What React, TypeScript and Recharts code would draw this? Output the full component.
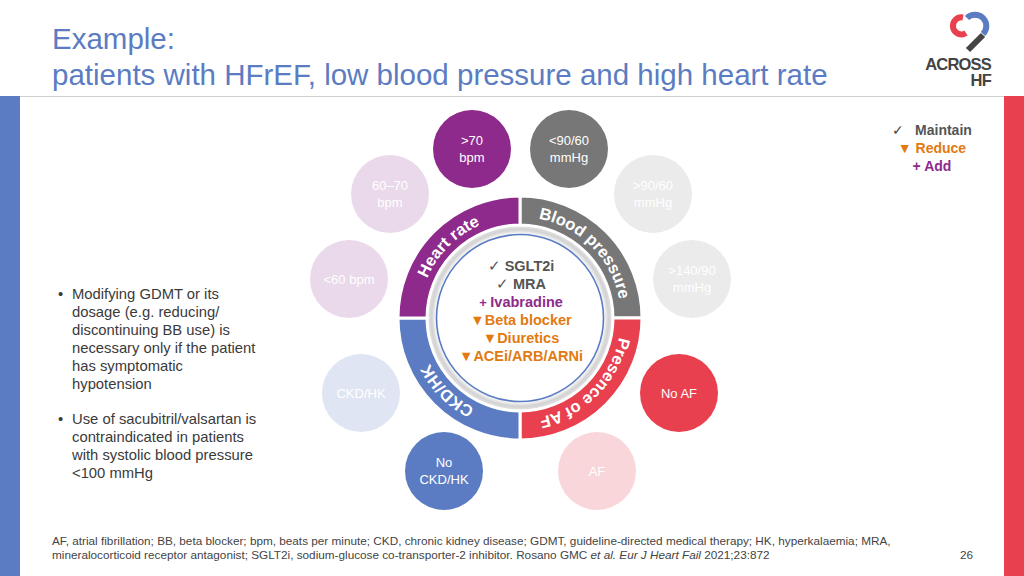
import React from 'react';
import { PieChart, Pie, Cell, ScatterChart, Scatter, XAxis, YAxis } from 'recharts';

const FONT = '"Liberation Sans", Arial, Helvetica, sans-serif';

// ---- data ----
const domainNames = ['Blood pressure', 'Presence of AF', 'CKD/HK', 'Heart rate'];
const domainShares = [25, 25, 25, 25];
const domainColors = ['#777777', '#e8404e', '#5b7cc2', '#8e2a8b'];

const satelliteLabels = [
  ['>70', 'bpm'],
  ['<90/60', 'mmHg'],
  ['60\u201370', 'bpm'],
  ['>90/60', 'mmHg'],
  ['<60 bpm'],
  ['>140/90', 'mmHg'],
  ['CKD/HK'],
  ['No AF'],
  ['No', 'CKD/HK'],
  ['AF'],
];
const satelliteX = [472, 569, 390, 653, 349, 692, 361, 679, 444, 597];
const satelliteY = [149, 149, 194, 194, 279, 279, 393, 393, 471, 471];
const satelliteColors = ['#8e2a8b', '#777777', '#ead9ea', '#ebebeb', '#ead9ea', '#ebebeb', '#dfe5f3', '#e8404e', '#5b7cc2', '#f9d6da'];

const drugNames = ['SGLT2i', 'MRA', 'Ivabradine', 'Beta blocker', 'Diuretics', 'ACEi/ARB/ARNi'];
const drugActions = ['maintain', 'maintain', 'add', 'reduce', 'reduce', 'reduce'];

const bullet1 = ['Modifying GDMT or its', 'dosage (e.g. reducing/', 'discontinuing BB use) is', 'necessary only if the patient', 'has symptomatic', 'hypotension'];
const bullet2 = ['Use of sacubitril/valsartan is', 'contraindicated in patients', 'with systolic blood pressure', '<100 mmHg'];

// ---- styles ----
const CX = 520;
const CY = 318;
const W = 1024;
const H = 576;
const BLUE = '#5b7cc2';
const RED = '#e8404e';
const PURPLE = '#8e2a8b';
const ORANGE = '#e27a12';
const GREY_TXT = '#555555';

const domainData = domainNames.map((name, i) => ({ name, value: domainShares[i] }));
const satellites = satelliteLabels.map((lines, i) => ({ lines, x: satelliteX[i], y: satelliteY[i], color: satelliteColors[i] }));

const RAD = Math.PI / 180;

const renderDomainLabel = (props: any) => {
  const { cx, cy, midAngle, index } = props;
  const name = props.name ?? props.payload?.name;
  const r = 101;
  const s = midAngle + 45;
  const e = midAngle - 45;
  const x1 = cx + r * Math.cos(s * RAD);
  const y1 = cy - r * Math.sin(s * RAD);
  const x2 = cx + r * Math.cos(e * RAD);
  const y2 = cy - r * Math.sin(e * RAD);
  const id = `domain-arc-${index}`;
  return (
    <g key={id}>
      <path id={id} d={`M ${x1} ${y1} A ${r} ${r} 0 0 1 ${x2} ${y2}`} fill="none" stroke="none" />
      <text fill="#ffffff" fontSize={16.5} fontWeight="bold" fontFamily={FONT}>
        <textPath href={`#${id}`} startOffset="50%" textAnchor="middle">
          {name}
        </textPath>
      </text>
    </g>
  );
};

const renderSatellite = (props: any) => {
  const { cx, cy, payload } = props;
  const lines: string[] = payload.lines;
  return (
    <g>
      <circle cx={cx} cy={cy} r={39} fill={payload.color} />
      {lines.length === 1 ? (
        <text x={cx} y={cy + 5} textAnchor="middle" fill="#ffffff" fontSize={13} fontFamily={FONT}>
          {lines[0]}
        </text>
      ) : (
        <text textAnchor="middle" fill="#ffffff" fontSize={13} fontFamily={FONT}>
          <tspan x={cx} y={cy - 4}>{lines[0]}</tspan>
          <tspan x={cx} y={cy + 13}>{lines[1]}</tspan>
        </text>
      )}
    </g>
  );
};

const actionColor = (a: string) => (a === 'maintain' ? GREY_TXT : a === 'add' ? PURPLE : ORANGE);
const actionMark = (a: string) => (a === 'maintain' ? '\u2713 ' : a === 'add' ? '+ ' : '\u25BC');

export default function App() {
  return (
    <div style={{ position: 'relative', width: W, height: H, overflow: 'hidden', background: '#ffffff', fontFamily: FONT }}>
      <style>{'body{margin:0;}'}</style>
      {/* background slide */}
      <svg width={W} height={H} style={{ position: 'absolute', left: 0, top: 0 }}>
        <defs>
          <radialGradient id="coreShadow" cx="50%" cy="50%" r="50%">
            <stop offset="0.88" stopColor="#ffffff" />
            <stop offset="0.93" stopColor="#d2d2d2" />
            <stop offset="1" stopColor="#f0f0f0" />
          </radialGradient>
        </defs>
        <rect x={0} y={96} width={20} height={H - 96} fill={BLUE} />
        <rect x={1004} y={96} width={20} height={H - 96} fill={RED} />
        <line x1={20} y1={96.5} x2={1004} y2={96.5} stroke="#cfcfcf" strokeWidth={1} />
        <text x={52} y={49} fill={BLUE} fontSize={29.5} fontFamily={FONT}>Example:</text>
        <text x={52} y={85} fill={BLUE} fontSize={29.5} fontFamily={FONT}>patients with HFrEF, low blood pressure and high heart rate</text>
        {/* logo */}
        <path d="M 963 17.5 A 8.5 8.5 0 1 0 966 33" stroke={RED} strokeWidth={6} fill="none" />
        <path d="M 967 18 A 9.5 9.5 0 1 1 983 34" stroke={BLUE} strokeWidth={6} fill="none" />
        <line x1={983} y1={35} x2={968} y2={50} stroke="#454545" strokeWidth={6} />
        <text x={991} y={70} textAnchor="end" fill="#444444" fontSize={16.5} fontWeight="bold" fontFamily={FONT} letterSpacing={-0.8}>ACROSS</text>
        <text x={991} y={86} textAnchor="end" fill="#444444" fontSize={16.5} fontWeight="bold" fontFamily={FONT} letterSpacing={-0.8}>HF</text>
        {/* legend */}
        <text x={932} y={135} textAnchor="middle" fontSize={14} fontWeight="bold" fontFamily={FONT} fill={GREY_TXT}>
          <tspan fontWeight="normal" fill="#444">{'\u2713'}</tspan>
          <tspan>{'\u2002 Maintain'}</tspan>
        </text>
        <text x={932} y={153} textAnchor="middle" fontSize={14} fontWeight="bold" fontFamily={FONT} fill={ORANGE}>{'\u25BC Reduce'}</text>
        <text x={932} y={171} textAnchor="middle" fontSize={14} fontWeight="bold" fontFamily={FONT} fill={PURPLE}>+ Add</text>
        {/* bullets */}
        <text fontSize={14.8} fontFamily={FONT} fill="#3a3a3a">
          <tspan x={58} y={299}>{'\u2022'}</tspan>
          {bullet1.map((l, i) => (
            <tspan key={'b1' + i} x={72} y={299 + i * 18}>{l}</tspan>
          ))}
          <tspan x={58} y={424}>{'\u2022'}</tspan>
          {bullet2.map((l, i) => (
            <tspan key={'b2' + i} x={72} y={424 + i * 18}>{l}</tspan>
          ))}
        </text>
        {/* footer */}
        <text fontSize={11.75} fontFamily={FONT} fill="#444444">
          <tspan x={52} y={545}>AF, atrial fibrillation; BB, beta blocker; bpm, beats per minute; CKD, chronic kidney disease; GDMT, guideline-directed medical therapy; HK, hyperkalaemia; MRA,</tspan>
          <tspan x={52} y={559}>mineralocorticoid receptor antagonist; SGLT2i, sodium-glucose co-transporter-2 inhibitor. Rosano GMC </tspan>
          <tspan fontStyle="italic">et al. Eur J Heart Fail</tspan>
          <tspan> 2021;23:872</tspan>
        </text>
        <text x={973} y={559} textAnchor="end" fontSize={11.75} fontFamily={FONT} fill="#444444">26</text>
      </svg>

      {/* satellite circles */}
      <div style={{ position: 'absolute', left: 0, top: 0 }}>
        <ScatterChart width={W} height={H} margin={{ top: 0, right: 0, bottom: 0, left: 0 }}>
          <XAxis type="number" dataKey="x" domain={[0, W]} allowDataOverflow hide />
          <YAxis type="number" dataKey="y" domain={[0, H]} allowDataOverflow reversed hide width={0} />
          <Scatter data={satellites} shape={renderSatellite} isAnimationActive={false} />
        </ScatterChart>
      </div>

      {/* shadow ring under donut */}
      <svg width={W} height={H} style={{ position: 'absolute', left: 0, top: 0 }}>
        <circle cx={CX} cy={CY} r={95} fill="url(#coreShadow)" />
      </svg>

      {/* donut */}
      <div style={{ position: 'absolute', left: 0, top: 0 }}>
        <PieChart width={W} height={H} margin={{ top: 0, right: 0, bottom: 0, left: 0 }}>
          <Pie
            data={domainData}
            dataKey="value"
            nameKey="name"
            cx={CX}
            cy={CY}
            innerRadius={93}
            outerRadius={122}
            startAngle={90}
            endAngle={-270}
            stroke="#ffffff"
            strokeWidth={3}
            label={renderDomainLabel}
            labelLine={false}
            isAnimationActive={false}
          >
            {domainData.map((d, i) => (
              <Cell key={d.name} fill={domainColors[i]} />
            ))}
          </Pie>
        </PieChart>
      </div>

      {/* centre disk and recommendations */}
      <svg width={W} height={H} style={{ position: 'absolute', left: 0, top: 0, pointerEvents: 'none' }}>
        <circle cx={CX} cy={CY} r={83.5} fill="#ffffff" stroke={BLUE} strokeWidth={1.6} />
        {drugNames.map((d, i) => (
          <text key={d} x={CX + 1} y={271 + i * 18} textAnchor="middle" fontSize={14.5} fontWeight="bold" fontFamily={FONT} fill={actionColor(drugActions[i])}>
            <tspan fontWeight={drugActions[i] === 'maintain' ? 'normal' : 'bold'} fontSize={drugActions[i] === 'add' ? 13 : 14.5}>{actionMark(drugActions[i])}</tspan>
            <tspan>{d}</tspan>
          </text>
        ))}
      </svg>
    </div>
  );
}
